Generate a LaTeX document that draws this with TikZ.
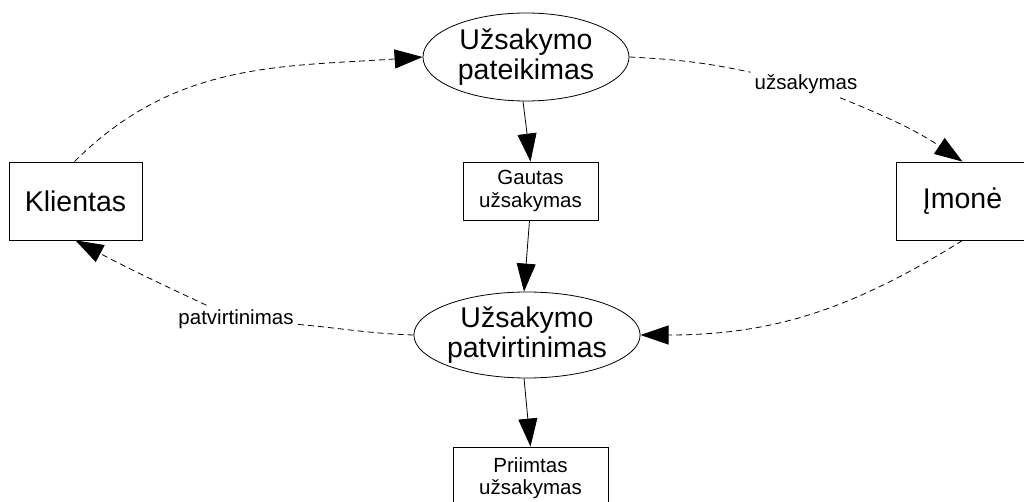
\documentclass[tikz,border=0pt]{standalone}
\usepackage{fontspec}
\setmainfont{Liberation Sans}
\usetikzlibrary{shapes.geometric,arrows.meta}
\begin{document}
\begin{tikzpicture}[x=1pt,y=1pt,
 big/.style={font=\fontsize{28.5}{30}\selectfont, align=center},
 small/.style={font=\fontsize{20.5}{22.5}\selectfont, align=center},
 proc/.style={draw, ellipse, inner sep=0pt, big, line width=0.8pt},
 ent/.style={draw, rectangle, inner sep=0pt, line width=0.8pt},
 flow/.style={-{Triangle[length=28pt,width=19pt]}, line width=0.8pt},
 dline/.style={line width=0.8pt, dash pattern=on 6pt off 4pt},
 dflow/.style={dline, -{Triangle[length=28pt,width=19pt]}},
]
\useasboundingbox (0,0) rectangle (1024,-502);

\node[proc, minimum width=206pt, minimum height=88pt] (p1) at (526,-57) {Užsakymo\\pateikimas};
\node[proc, minimum width=226pt, minimum height=86pt] (p2) at (527,-335) {Užsakymo\\patvirtinimas};
\node[ent, big, minimum width=133pt, minimum height=78pt] (kl) at (75.5,-201) {Klientas};
\node[ent, big, minimum width=133pt, minimum height=78pt] (im) at (962.5,-201) {Įmonė};
\node[ent, small, minimum width=135pt, minimum height=58pt] (ga) at (530.5,-191) {Gautas\\užsakymas};
\node[ent, small, minimum width=155pt, minimum height=62pt] (pr) at (530.5,-478) {Priimtas\\užsakymas};
\node[small, inner sep=4pt] (l1) at (806,-84) {užsakymas};
\node[small, inner sep=4pt] (l2) at (236,-319) {patvirtinimas};

\draw[flow] ([xshift=-3pt]p1.south) -- (ga.north);
\draw[flow] ([xshift=-1pt]ga.south) -- ([xshift=-3pt]p2.north);
\draw[flow] ([xshift=-3pt]p2.south) -- (pr.north);

\draw[dflow] ([xshift=-1pt]kl.north) to[out=45,in=184] (p1.west);
\draw[dline] (p1.east) to[out=-3,in=168] (l1);
\draw[dflow] (l1) to[out=-22,in=146] (im.north);
\draw[dflow] (im.south) to[out=-148,in=0] (p2.east);
\draw[dline] (p2.west) to[out=178,in=-5] (l2);
\draw[dflow] (l2) to[out=155,in=-28] (kl.south);
\end{tikzpicture}
\end{document}
